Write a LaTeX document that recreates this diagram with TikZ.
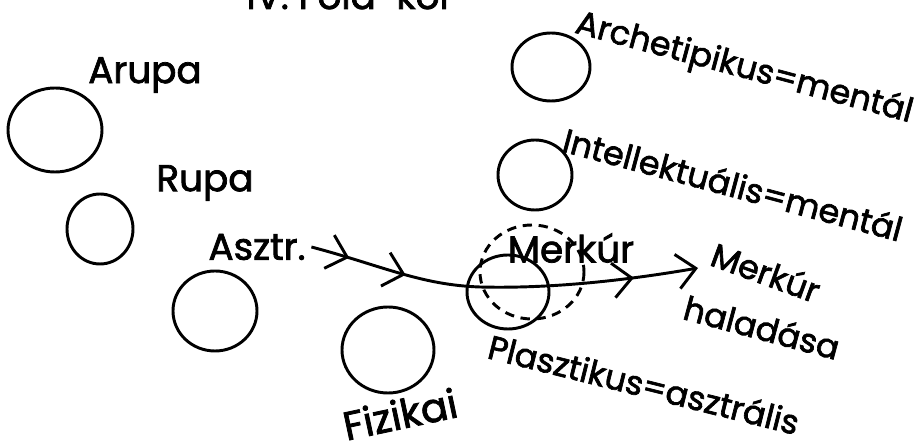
\documentclass[tikz,border=0pt]{standalone}
\usepackage{fontspec}
\setmainfont{Poppins}[FakeBold=2]
\usetikzlibrary{arrows.meta,decorations.markings}

\tikzset{every picture/.style={line width=2.2pt}}

\begin{document}
\begin{tikzpicture}[x=0.75pt,y=0.75pt,yscale=-1,xscale=1,
	big/.style={font=\fontsize{28}{32}\selectfont},
	slant/.style={font=\fontsize{25}{29}\selectfont},
	barb/.tip={Straight Barb[length=14pt,width=26pt]},
	dashring/.style={dash pattern=on 7pt off 5pt}]
	\useasboundingbox (0,0) rectangle (915,448);
	
	%Shape: Ellipse [id:arupa]
	\draw (55,130) ellipse [x radius=47, y radius=42];
	%Shape: Ellipse [id:rupa]
	\draw (100,229) ellipse [x radius=33, y radius=35];
	%Shape: Ellipse [id:asztr]
	\draw (215,311) ellipse [x radius=42, y radius=40];
	%Shape: Ellipse [id:fizikai]
	\draw (388,350) ellipse [x radius=46, y radius=43];
	%Shape: Ellipse [id:archetip]
	\draw (551,67) ellipse [x radius=39, y radius=34];
	%Shape: Ellipse [id:intellekt]
	\draw (535,175) ellipse [x radius=37, y radius=35];
	%Shape: Ellipse [id:merkur]
	\draw (508,292) ellipse [x radius=41, y radius=37];
	%Shape: Ellipse [id:merkurdash]
	\draw [dashring] (532,272) ellipse [x radius=52, y radius=47];
	
	% Text Node
	\node [big, anchor=base] (cim) at (350,9) {IV. Föld-kör};
	% Text Node
	\node [big] (arupa) at (145,75) {Arupa};
	% Text Node
	\node [big] (rupa) at (205,183) {Rupa};
	% Text Node
	\node [big] (asztr) at (257,247) {Asztr.};
	% Text Node
	\node [big, font=\fontsize{30}{34}\selectfont, rotate=12] (fiz) at (400,414) {Fizikai};
	% Text Node
	\node [big] (merkc) at (571,248) {Merkúr};
	% Text Node
	\node [slant, rotate=-15] (arch) at (744,69) {Archetipikus=mentál};
	% Text Node
	\node [slant, rotate=-15] (intel) at (733,184) {Intellektuális=mentál};
	% Text Node
	\node [slant, rotate=-20] (merk) at (766,272) {Merkúr};
	% Text Node
	\node [slant, rotate=-15] (hal) at (762,327) {haladása};
	% Text Node
	\node [slant, rotate=-14] (plaszt) at (644,384) {Plasztikus=asztrális};
	
	\coordinate (tip) at (698,268);
	
	%Curve Lines [id:halad]
	\draw [-{barb}, postaction={decorate},
		decoration={markings,
			mark=at position 0.1 with {\arrow{barb}},
			mark=at position 0.25 with {\arrow{barb}},
			mark=at position 0.835 with {\arrow{barb}}}]
		(asztr.east) .. controls (380,265) and (420,285) .. (480,287)
		.. controls (560,289) and (640,278) .. (tip);
	
\end{tikzpicture}
\end{document}
